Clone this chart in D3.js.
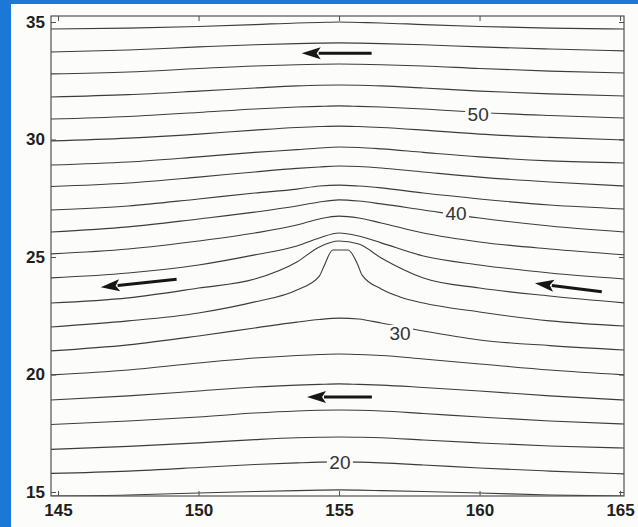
<!DOCTYPE html>
<html>
<head>
<meta charset="utf-8">
<script src="https://cdn.jsdelivr.net/npm/d3@7.9.0/dist/d3.min.js"></script>
<style>
  html, body { margin: 0; padding: 0; background: #1b78d6; }
  svg { display: block; }
</style>
</head>
<body>
<svg id="chart" width="638" height="527"></svg>
<script>
const lonGrid = [144.7, 147.5, 150, 152, 153.5, 154.3, 155, 155.7, 156.5, 158, 160, 162.5, 165.2];

// latitude of each streamline at lonGrid (top to bottom, bump line kept apart)
const streamLats = [
  [34.70, 34.74, 34.81, 34.89, 34.96, 34.98, 35.00, 34.98, 34.96, 34.89, 34.81, 34.74, 34.70],
  [33.72, 33.81, 33.94, 34.03, 34.08, 34.10, 34.11, 34.10, 34.08, 34.03, 33.94, 33.85, 33.77],
  [32.79, 32.87, 33.02, 33.13, 33.18, 33.20, 33.21, 33.20, 33.18, 33.13, 33.02, 32.91, 32.83],
  [31.81, 31.91, 32.06, 32.19, 32.28, 32.31, 32.32, 32.31, 32.28, 32.19, 32.06, 31.94, 31.85],
  [30.87, 30.98, 31.15, 31.30, 31.38, 31.41, 31.43, 31.41, 31.38, 31.30, 31.15, 31.02, 30.91],
  [29.94, 30.06, 30.23, 30.40, 30.51, 30.55, 30.57, 30.55, 30.51, 30.40, 30.23, 30.09, 29.98],
  [28.91, 29.04, 29.26, 29.45, 29.57, 29.64, 29.68, 29.66, 29.60, 29.45, 29.26, 29.09, 29.00],
  [28.00, 28.15, 28.40, 28.62, 28.77, 28.83, 28.87, 28.85, 28.79, 28.62, 28.40, 28.19, 28.02],
  [27.00, 27.17, 27.47, 27.72, 27.89, 28.02, 28.06, 28.02, 27.94, 27.72, 27.47, 27.21, 27.04],
  [26.06, 26.28, 26.62, 26.91, 27.17, 27.34, 27.43, 27.38, 27.26, 27.00, 26.66, 26.32, 26.06],
  [25.13, 25.34, 25.68, 26.02, 26.36, 26.62, 26.74, 26.66, 26.45, 26.02, 25.64, 25.34, 25.09],
  [24.11, 24.32, 24.66, 25.09, 25.47, 25.81, 26.02, 25.89, 25.60, 25.04, 24.66, 24.32, 24.06],
  [23.04, 23.26, 23.68, 24.06, 24.79, 25.43, 25.68, 25.55, 24.96, 24.11, 23.68, 23.34, 23.04],
  [21.00, 21.26, 21.64, 21.98, 22.23, 22.34, 22.40, 22.36, 22.19, 21.85, 21.47, 21.23, 21.04],
  [19.98, 20.19, 20.49, 20.70, 20.81, 20.85, 20.87, 20.85, 20.81, 20.66, 20.45, 20.19, 19.98],
  [18.91, 19.09, 19.30, 19.47, 19.55, 19.58, 19.60, 19.58, 19.55, 19.45, 19.30, 19.09, 18.91],
  [17.87, 18.02, 18.19, 18.36, 18.45, 18.48, 18.49, 18.48, 18.45, 18.34, 18.19, 18.02, 17.89],
  [16.81, 16.94, 17.09, 17.23, 17.31, 17.33, 17.34, 17.33, 17.31, 17.21, 17.09, 16.96, 16.87],
  [15.79, 15.89, 16.04, 16.17, 16.24, 16.27, 16.28, 16.27, 16.24, 16.15, 16.02, 15.89, 15.77],
  [14.83, 14.87, 14.96, 15.02, 15.06, 15.08, 15.09, 15.08, 15.06, 15.02, 14.96, 14.87, 14.83]
];

// the streamline that wraps over the island
const bumpLon = [144.7, 147.5, 150, 152, 153.5, 154.3, 154.45, 154.78, 155.32, 155.67, 155.82, 156.5, 157.17, 158, 160, 162.5, 165.2];
const bumpLat = [22.02, 22.28, 22.62, 23.09, 23.60, 24.19, 24.57, 25.30, 25.30, 24.66, 24.23, 23.64, 23.30, 23.04, 22.66, 22.28, 22.06];

const xTicks = [145, 150, 155, 160, 165];
const yTicks = [15, 20, 25, 30, 35];

const contourLabels = ['50', '40', '30', '20'];
const labelLon = [159.95, 159.16, 157.17, 155.03];
const labelLat = [31.09, 26.87, 21.77, 16.28];

// flow arrows, [lon, lat]
const arrowTail = [[156.16, 33.67], [149.22, 24.05], [164.35, 23.52], [156.17, 19.04]];
const arrowTip  = [[153.67, 33.67], [146.52, 23.71], [161.97, 23.88], [153.86, 19.04]];

const svg = d3.select('#chart');
const plot = { left: 51, right: 624, top: 16, bottom: 496 };

const x = d3.scaleLinear().domain([144.75, 165.14]).range([plot.left, plot.right]);
const y = d3.scaleLinear().domain([14.83, 35.255]).range([plot.bottom, plot.top]);

// blue slide background and the white scanned page
svg.append('rect').attr('width', 638).attr('height', 527).attr('fill', '#1b78d6');
svg.append('rect').attr('x', 11).attr('y', 4).attr('width', 627).attr('height', 523).attr('fill', '#fcfcfb');

svg.append('clipPath').attr('id', 'clip')
  .append('rect')
  .attr('x', plot.left).attr('y', plot.top)
  .attr('width', plot.right - plot.left).attr('height', plot.bottom - plot.top);

const lines = svg.append('g').attr('clip-path', 'url(#clip)');
const line = d3.line()
  .x(d => x(d[0]))
  .y(d => y(d[1]))
  .curve(d3.curveMonotoneX);

streamLats.forEach(lats => {
  lines.append('path')
    .attr('d', line(lonGrid.map((lon, i) => [lon, lats[i]])))
    .attr('fill', 'none')
    .attr('stroke', '#3c3c3c')
    .attr('stroke-width', 1.1);
});

lines.append('path')
  .attr('d', line(bumpLon.map((lon, i) => [lon, bumpLat[i]])))
  .attr('fill', 'none')
  .attr('stroke', '#3c3c3c')
  .attr('stroke-width', 1.1);

// contour labels break the line under them
contourLabels.forEach((txt, i) => {
  const g = svg.append('g').attr('transform', `translate(${x(labelLon[i])},${y(labelLat[i])})`);
  g.append('rect')
    .attr('x', -13).attr('y', -8).attr('width', 26).attr('height', 16)
    .attr('fill', '#fcfcfb');
  g.append('text')
    .attr('text-anchor', 'middle')
    .attr('dy', '0.36em')
    .attr('font-family', '"Liberation Sans", Arial, sans-serif')
    .attr('font-size', 19)
    .attr('fill', '#333')
    .text(txt);
});

// arrows
arrowTail.forEach((tail, i) => {
  const tip = arrowTip[i];
  const x0 = x(tail[0]), y0 = y(tail[1]);
  const x1 = x(tip[0]), y1 = y(tip[1]);
  const ang = Math.atan2(y1 - y0, x1 - x0);
  const headLen = 19, headW = 6;
  const bx = x1 - headLen * Math.cos(ang), by = y1 - headLen * Math.sin(ang);
  svg.append('line')
    .attr('x1', x0).attr('y1', y0).attr('x2', bx + 2 * Math.cos(ang)).attr('y2', by + 2 * Math.sin(ang))
    .attr('stroke', '#161616').attr('stroke-width', 3);
  svg.append('path')
    .attr('d', `M${x1},${y1}L${bx - headW * Math.sin(ang)},${by + headW * Math.cos(ang)}L${bx + 4 * Math.cos(ang)},${by + 4 * Math.sin(ang)}L${bx + headW * Math.sin(ang)},${by - headW * Math.cos(ang)}Z`)
    .attr('fill', '#161616');
});

// frame
svg.append('rect')
  .attr('x', plot.left).attr('y', plot.top)
  .attr('width', plot.right - plot.left).attr('height', plot.bottom - plot.top)
  .attr('fill', 'none').attr('stroke', '#505050').attr('stroke-width', 1.2);

const font = '"Liberation Sans", Arial, sans-serif';
const styleAxis = g => {
  g.select('.domain').remove();
  g.selectAll('.tick line').attr('stroke', '#505050').attr('stroke-width', 1);
  g.selectAll('.tick text')
    .attr('font-family', font).attr('font-size', 17).attr('font-weight', 'bold').attr('fill', '#1e1e1e');
};

svg.append('g').attr('transform', `translate(${plot.left},0)`)
  .call(d3.axisLeft(y).tickValues(yTicks).tickSize(-5).tickPadding(6))
  .call(styleAxis);
svg.append('g').attr('transform', `translate(0,${plot.bottom})`)
  .call(d3.axisBottom(x).tickValues(xTicks).tickSize(-5).tickPadding(8))
  .call(styleAxis);
svg.append('g').attr('transform', `translate(${plot.right},0)`)
  .call(d3.axisRight(y).tickValues(yTicks).tickSize(-5).tickFormat(''))
  .call(styleAxis);
svg.append('g').attr('transform', `translate(0,${plot.top})`)
  .call(d3.axisTop(x).tickValues(xTicks).tickSize(-5).tickFormat(''))
  .call(styleAxis);
</script>
</body>
</html>
